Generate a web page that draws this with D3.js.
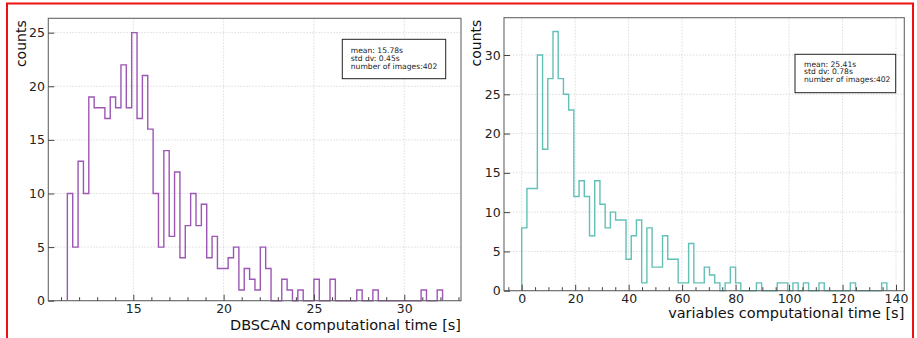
<!DOCTYPE html>
<html>
<head>
<meta charset="utf-8">
<script src="https://cdn.jsdelivr.net/npm/d3@7"></script>
<style>
  html, body { margin: 0; padding: 0; background: #fff; }
  svg { display: block; font-family: "DejaVu Sans", sans-serif; }
</style>
</head>
<body>
<svg id="chart" width="917" height="338"></svg>
<script>
// ---------------- data ----------------
const leftCounts = [10, 5, 13, 10, 19, 18, 18, 17, 19, 18,
                    22, 18, 25, 17, 21, 16, 10, 5, 14, 6,
                    12, 4, 7, 10, 7, 9, 4, 6, 3, 3,
                    4, 5, 1, 3, 2, 1, 5, 3, 0, 0,
                    2, 1, 0, 1, 0, 0, 2, 0, 0, 2,
                    0, 0, 0, 0, 1, 0, 0, 1, 0, 0,
                    0, 0, 0, 0, 0, 0, 1, 0, 0, 1];
const leftBinStart = 11.35;
const leftBinWidth = 0.2967;

const rightCounts = [8, 13, 13, 30, 18, 27, 33, 27, 25, 23,
                     12, 14, 12, 7, 14, 11, 8, 10, 9, 9,
                     4, 7, 9, 1, 8, 3, 3, 7, 4, 4,
                     1, 1, 6, 1, 1, 3, 2, 1, 0, 1,
                     3, 1, 0, 0, 0, 1, 0, 0, 0, 1,
                     1, 0, 1, 0, 1, 0, 0, 1, 0, 0,
                     0, 0, 0, 1, 0, 0, 0, 0, 0, 1];
const rightBinStart = 0;
const rightBinWidth = 1.951;

const leftXTicks = [15, 20, 25, 30];
const leftXMinor = [11, 12, 13, 14, 16, 17, 18, 19, 21, 22, 23, 24, 26, 27, 28, 29, 31, 32, 33];
const leftYTicks = [0, 5, 10, 15, 20, 25];
const rightXTicks = [0, 20, 40, 60, 80, 100, 120, 140];
const rightXMinor = [-5, 5, 10, 15, 25, 30, 35, 45, 50, 55, 65, 70, 75, 85, 90, 95, 105, 110, 115, 125, 130, 135];
const rightYTicks = [0, 5, 10, 15, 20, 25, 30];

const leftLegend = ["mean: 15.78s", "std dv: 0.45s", "number of images:402"];
const rightLegend = ["mean: 25.41s", "std dv: 0.78s", "number of images:402"];

const leftXLabel = "DBSCAN computational time [s]";
const rightXLabel = "variables computational time [s]";
const yLabel = "counts";

// ---------------- drawing ----------------
const svg = d3.select("#chart");

// red outer border
svg.append("rect")
  .attr("x", 7).attr("y", 3.5).attr("width", 906).attr("height", 345)
  .attr("fill", "none").attr("stroke", "#ee1111").attr("stroke-width", 2);

function drawPanel(cfg) {
  const x = d3.scaleLinear().domain(cfg.xDomain).range([cfg.left, cfg.right]);
  const y = d3.scaleLinear().domain(cfg.yDomain).range([cfg.bottom, cfg.top]);
  const g = svg.append("g");

  // grid
  g.append("g").selectAll("line.gx").data(cfg.xTicks).join("line")
    .attr("x1", d => x(d)).attr("x2", d => x(d))
    .attr("y1", cfg.top).attr("y2", cfg.bottom)
    .attr("stroke", "#d4d4d4").attr("stroke-width", 0.8).attr("stroke-dasharray", "1.5,1.5");
  g.append("g").selectAll("line.gy").data(cfg.yTicks).join("line")
    .attr("y1", d => y(d)).attr("y2", d => y(d))
    .attr("x1", cfg.left).attr("x2", cfg.right)
    .attr("stroke", "#d4d4d4").attr("stroke-width", 0.8).attr("stroke-dasharray", "1.5,1.5");

  // histogram step outline
  const pts = [[cfg.binStart, 0]];
  cfg.counts.forEach((c, i) => {
    const e0 = cfg.binStart + i * cfg.binWidth;
    const e1 = cfg.binStart + (i + 1) * cfg.binWidth;
    pts.push([e0, c]); pts.push([e1, c]);
  });
  pts.push([cfg.binStart + cfg.counts.length * cfg.binWidth, 0]);
  const line = d3.line().x(d => x(d[0])).y(d => y(d[1]));
  g.append("path").attr("d", line(pts))
    .attr("fill", "none").attr("stroke", cfg.color).attr("stroke-width", 1.4)
    .attr("stroke-linejoin", "miter");

  // frame
  g.append("rect")
    .attr("x", cfg.left).attr("y", cfg.top)
    .attr("width", cfg.right - cfg.left).attr("height", cfg.bottom - cfg.top)
    .attr("fill", "none").attr("stroke", "#666").attr("stroke-width", 1.1);

  // axes
  const xAxis = g.append("g").attr("transform", `translate(0,${cfg.bottom})`)
    .call(d3.axisBottom(x).tickValues(cfg.xTicks).tickSize(-6).tickPadding(3.5));
  const xMinor = g.append("g").attr("transform", `translate(0,${cfg.bottom})`)
    .call(d3.axisBottom(x).tickValues(cfg.xMinor).tickSize(-3.5).tickFormat(""));
  const yAxis = g.append("g").attr("transform", `translate(${cfg.left},0)`)
    .call(d3.axisLeft(y).tickValues(cfg.yTicks).tickSize(-6).tickPadding(3.3));
  [xAxis, xMinor, yAxis].forEach(a => {
    a.select(".domain").remove();
    a.selectAll(".tick line").attr("stroke", "#444").attr("stroke-width", 1);
    a.selectAll(".tick text").attr("font-size", 12.5).attr("fill", "#222")
      .attr("font-family", "DejaVu Sans, sans-serif");
  });

  // axis labels
  g.append("text").attr("x", cfg.right).attr("y", cfg.xLabelY)
    .attr("text-anchor", "end").attr("font-size", 14.5).attr("fill", "#111")
    .text(cfg.xLabel);
  g.append("text")
    .attr("transform", `translate(${cfg.yLabelX},${cfg.top + 2}) rotate(-90)`)
    .attr("text-anchor", "end").attr("font-size", 14).attr("fill", "#111")
    .text(yLabel);

  // legend box
  const lg = cfg.legend;
  g.append("rect").attr("x", lg.x).attr("y", lg.y).attr("width", lg.w).attr("height", lg.h)
    .attr("fill", "#fff").attr("stroke", "#222").attr("stroke-width", 1);
  g.append("g").selectAll("text").data(cfg.legendLines).join("text")
    .attr("x", lg.x + lg.pad)
    .attr("y", (d, i) => lg.y + lg.first + i * lg.step)
    .attr("font-size", 7.6).attr("fill", "#222")
    .text(d => d);
}

drawPanel({
  counts: leftCounts, binStart: leftBinStart, binWidth: leftBinWidth,
  xDomain: [10.295, 33.14], yDomain: [0, 26.34],
  left: 48.3, right: 461, top: 18.3, bottom: 300.7,
  xTicks: leftXTicks, xMinor: leftXMinor, yTicks: leftYTicks,
  color: "#9c57b4", xLabel: leftXLabel, xLabelY: 330, yLabelX: 25.5,
  legendLines: leftLegend,
  legend: { x: 342.3, y: 39.3, w: 103.4, h: 39.4, pad: 8.5, first: 13.5, step: 8.3 }
});

drawPanel({
  counts: rightCounts, binStart: rightBinStart, binWidth: rightBinWidth,
  xDomain: [-6.62, 143.1], yDomain: [0, 34.75],
  left: 504, right: 904.3, top: 17.7, bottom: 290.7,
  xTicks: rightXTicks, xMinor: rightXMinor, yTicks: rightYTicks,
  color: "#62c0b7", xLabel: rightXLabel, xLabelY: 318, yLabelX: 480.5,
  legendLines: rightLegend,
  legend: { x: 795, y: 54.3, w: 100.7, h: 38.4, pad: 9, first: 12.5, step: 7.4 }
});
</script>
</body>
</html>
